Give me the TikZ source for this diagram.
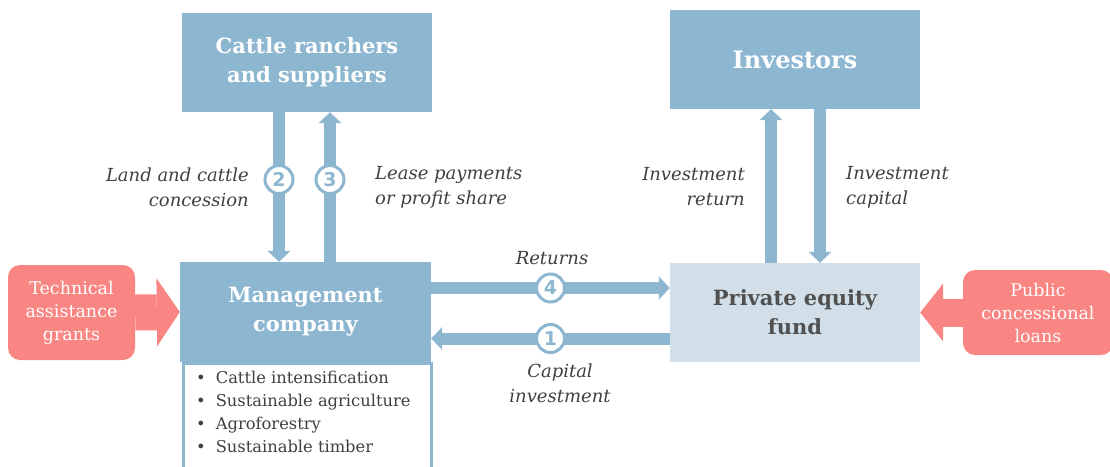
\documentclass[tikz,border=0pt]{standalone}
\usepackage{fontspec}
\setmainfont{DejaVu Serif}
\newfontfamily\numfont{DejaVu Sans}
\usetikzlibrary{arrows.meta,calc}
\definecolor{cblue}{HTML}{8DB6D1}
\definecolor{clight}{HTML}{D2DFE8}
\definecolor{csalmon}{HTML}{F98682}
\definecolor{cgray}{HTML}{404040}
\definecolor{cdark}{HTML}{505050}
\tikzset{
  bluebox/.style={rectangle, fill=cblue, inner sep=0pt, text=white, align=center,
    font=\bfseries\fontsize{21}{29}\selectfont},
  salbox/.style={rectangle, rounded corners=12pt, fill=csalmon, inner sep=0pt, text=white, align=center,
    font=\fontsize{17.5}{23}\selectfont},
  lbl/.style={inner sep=0pt, text=cgray, font=\itshape\fontsize{18}{25}\selectfont},
  flow/.style={cblue, line width=12pt, -{Triangle[width=23pt,length=11pt,line width=0pt]}},
  fat/.style={csalmon, -{Triangle[width=#1,length=23pt,line width=0pt]}},
  num/.style={circle, fill=white, draw=cblue, line width=3pt, minimum size=28pt, inner sep=0pt,
    text=cblue, font=\numfont\bfseries\fontsize{19}{19}\selectfont},
}
\begin{document}
\begin{tikzpicture}[x=1pt,y=-1pt]
\useasboundingbox (0,0) rectangle (1110,466);
% boxes
\node[bluebox, minimum width=250pt, minimum height=99pt] (ranch) at (307,62.5) {Cattle ranchers\\and suppliers};
\node[bluebox, minimum width=250pt, minimum height=99pt, font=\bfseries\fontsize{24}{29}\selectfont] (inv) at (795,59.5) {Investors};
\node[bluebox, minimum width=251pt, minimum height=100pt] (mgmt) at (305.5,312) {Management\\company};
\node[rectangle, fill=clight, inner sep=0pt, text=cdark, align=center, minimum width=250pt, minimum height=99pt,
  font=\bfseries\fontsize{21}{29}\selectfont] (pef) at (795,312.5) {Private equity\\fund};
\node[rectangle, draw=cblue, line width=3pt, fill=white, minimum width=248pt, minimum height=112pt, inner sep=0pt,
  anchor=north west] (list) at (181.5,362) {};
\node[anchor=north west, inner sep=0pt, text=cgray, align=left, font=\fontsize{16.3}{23}\selectfont] (items) at (196,371)
  {\textbullet\hspace{10pt}Cattle intensification\\
   \textbullet\hspace{10pt}Sustainable agriculture\\
   \textbullet\hspace{10pt}Agroforestry\\
   \textbullet\hspace{10pt}Sustainable timber};
\node[salbox, minimum width=127pt, minimum height=95pt] (tech) at (71.5,312.5) {Technical\\assistance\\grants};
\node[salbox, minimum width=150pt, minimum height=85pt] (pub) at (1038,312.5) {Public\\concessional\\loans};
% salmon arrows
\draw[fat=68pt, line width=36pt] (tech.east) -- (mgmt.west);
\draw[fat=58pt, line width=28pt] ([xshift=5pt]pub.west) -- (pef.east);
% vertical flows
\draw[flow] ([xshift=-28pt]ranch.south) -- ([xshift=-28pt]ranch.south |- mgmt.north)
  node[num, pos=0.45] (n2) {2};
\draw[flow] ([xshift=23pt]ranch.south |- mgmt.north) -- ([xshift=23pt]ranch.south)
  node[num, pos=0.55] (n3) {3};
\draw[flow] ([xshift=-24pt]inv.south |- pef.north) -- ([xshift=-24pt]inv.south);
\draw[flow] ([xshift=25pt]inv.south) -- ([xshift=25pt]inv.south |- pef.north);
% horizontal flows
\draw[flow] ([yshift=24pt]mgmt.east) -- ([yshift=24pt]mgmt.east -| pef.west)
  node[num, pos=0.5] (n4) {4};
\draw[flow] ([yshift=-26pt]pef.west) -- ([yshift=-26pt]pef.west -| mgmt.east)
  node[num, pos=0.5] (n1) {1};
% labels
\node[lbl, align=right, anchor=east] (l2) at (249,187) {Land and cattle\\concession};
\node[lbl, align=left, anchor=west] (l3) at (375,187) {Lease payments\\or profit share};
\node[lbl, align=right, anchor=east] (l5) at (745,187) {Investment\\return};
\node[lbl, align=left, anchor=west] (l6) at (846,187) {Investment\\capital};
\node[lbl] (l4) at (552,258) {Returns};
\node[lbl, align=center] (l1) at (560,383) {Capital\\investment};
\end{tikzpicture}
\end{document}
